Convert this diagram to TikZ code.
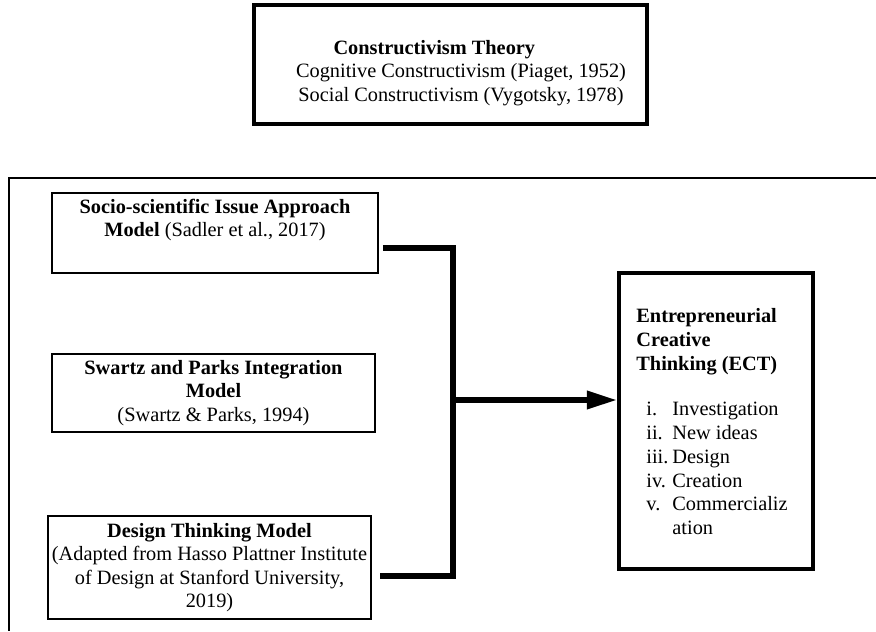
\documentclass[tikz,border=0pt]{standalone}
\usepackage{fontspec}
\setmainfont{Liberation Serif}
\usetikzlibrary{positioning,arrows.meta}

\newcommand{\ectitem}[2]{\hspace*{6pt}\makebox[15.6pt][l]{#1}#2}

\begin{document}
\begin{tikzpicture}[
    x=0.6pt, y=-0.6pt,
    >={Triangle[length=18pt,width=10.5pt]},
    every node/.style={font=\fontsize{12.2}{14.1}\selectfont},
    box/.style={
        rectangle,
        draw,
        line width=1pt,
        inner sep=0pt,
        align=center
    },
    heavybox/.style={box, line width=2.6pt},
    link/.style={line width=3.2pt}
]

\useasboundingbox (0,0) rectangle (876,631);

\draw[line width=0.8pt] (876,178) -| (9,631);

\node[heavybox, line width=2.4pt, minimum width=235.8pt, minimum height=71.4pt] (THEORY) at (450.5,64.5) {};
\node[align=center] (THEORYtext) at (461,73) {%
\textbf{Constructivism Theory}\hspace*{32pt}\\
Cognitive Constructivism (Piaget, 1952)\\
Social Constructivism (Vygotsky, 1978)%
};

\node[box, minimum width=195.6pt, minimum height=48pt] (SSI) at (215,233) {%
\textbf{Socio-scientific Issue Approach}\\
\textbf{Model} (Sadler et al., 2017)\\
\strut%
};

\node[box, minimum width=193.8pt, minimum height=46.8pt] (SPIM) at (213.5,393) {%
\textbf{Swartz and Parks Integration}\\
\textbf{Model}\\
(Swartz \& Parks, 1994)%
};

\node[box, minimum width=193.8pt, minimum height=61.8pt] (DTM) at (209.5,567.5) {%
\textbf{Design Thinking Model}\\
(Adapted from Hasso Plattner Institute\\
of Design at Stanford University,\\
2019)%
};

\node[heavybox, minimum width=116.4pt, minimum height=177.6pt,
      font=\fontsize{12.2}{14.3}\selectfont] (ECT) at (716,421) {%
\begin{tabular}{@{}l@{\hspace{4.8pt}}}
\rule{0pt}{13.6pt}\textbf{Entrepreneurial}\\
\textbf{Creative}\\
\textbf{Thinking (ECT)}\\[12.7pt]
\ectitem{i.}{Investigation}\\
\ectitem{ii.}{New ideas}\\
\ectitem{iii.}{Design}\\
\ectitem{iv.}{Creation}\\
\ectitem{v.}{Commercializ}\\
\hspace*{21.6pt}ation
\end{tabular}%
};

\coordinate (HUB) at (453,400);

\draw[link] ([xshift=2.4pt,yshift=-9pt]SSI.east) -| (HUB) |- ([xshift=4.8pt,yshift=-5.1pt]DTM.east);
\draw[link,->] (HUB) -- (HUB -| ECT.west);

\end{tikzpicture}
\end{document}
